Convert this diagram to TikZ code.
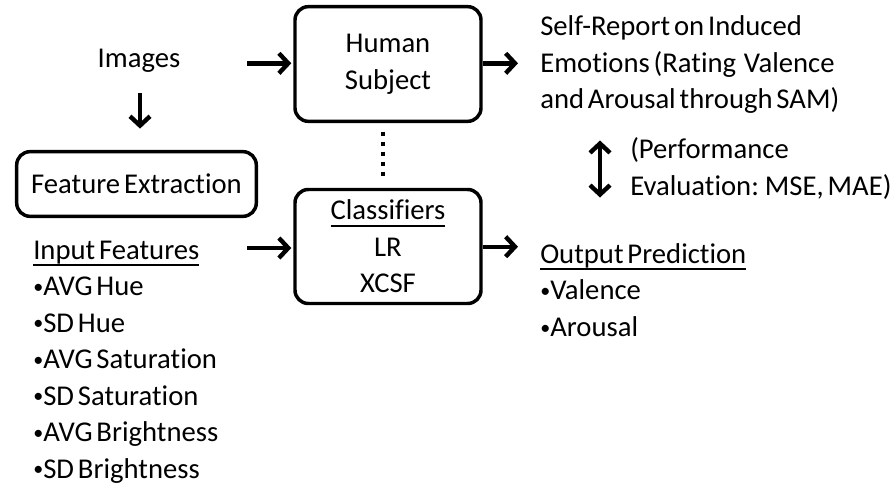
\documentclass[tikz,border=0pt]{standalone}
\usepackage{fontspec}
\setmainfont{Carlito}[WordSpace=0.6,Ligatures=NoCommon]
\usetikzlibrary{positioning,arrows.meta,calc}
\newsavebox{\ulbox}
\newcommand{\undl}[1]{\sbox{\ulbox}{#1}\rlap{\raisebox{-5.1pt}{\rule{\wd\ulbox}{1.3pt}}}\usebox{\ulbox}}
\newcommand{\bul}{\raisebox{0.15ex}{\scalebox{0.7}{\textbullet}}}

\begin{document}
\begin{tikzpicture}[
   x=0.75pt,y=-0.75pt,
   font=\fontsize{21.5}{27.4}\selectfont,
   blk/.style={draw,line width=2.6pt,rounded corners=10pt,align=center,inner sep=0pt},
   lbl/.style={inner sep=0pt,anchor=base west},
   arr/.style={line width=3.3pt,shorten >=1.5pt,-{Straight Barb[length=7pt,width=15pt]}},
   biarr/.style={line width=3.3pt,{Straight Barb[length=7pt,width=15pt]}-{Straight Barb[length=7pt,width=15pt]}},
   dots/.style={line width=3.4pt,dash pattern=on 3.4pt off 4.1pt}]
  \useasboundingbox (0,0) rectangle (893,489);
  % boxes
  \node[blk,minimum width=139.5pt,minimum height=86pt] (hum) at (388,64) {Human\\Subject};
  \node[blk,minimum width=139.5pt,minimum height=85.5pt] (cls) at (388,246.5) {\undl{Classifiers}\\LR\\XCSF};
  \node[blk,minimum width=179.7pt,minimum height=48.5pt] (fe) at (136.5,184) {Feature Extraction};
  % texts
  \node[inner sep=0pt,anchor=base] (img) at (139,67) {Images};
  \foreach \t [count=\i] in {Self-Report on Induced,Emotions (Rating~ Valence,and Arousal through SAM)}
    \node[lbl] (rep\i) at (540,36*\i) {\t};
  \node[lbl] (perf1) at (630,158) {(Performance};
  \node[lbl] (perf2) at (630,195) {Evaluation: MSE, MAE)};
  \node[lbl] (inp) at (33,259) {\undl{Input Features}};
  \foreach \f [count=\i] in {AVG Hue,SD Hue,AVG Saturation,SD Saturation,AVG Brightness,SD Brightness}
    \node[lbl] (f\i) at (33,259+36.5*\i) {\bul\f};
  \node[lbl] (out) at (540,263) {\undl{Output Prediction}};
  \foreach \o [count=\i] in {Valence,Arousal}
    \node[lbl] (o\i) at (540,263+36.8*\i) {\bul\o};
  % connector ends
  \coordinate (ih) at (247,63.3);
  \coordinate (id) at (140,93);
  \coordinate (ic) at (247,248);
  \coordinate (hr) at (518,63.3);
  \coordinate (co) at (518,246.7);
  \coordinate (dA) at (600,140.5);
  \coordinate (dB) at (600,197.5);
  \coordinate (dt1) at (383,131.5);
  \coordinate (dt2) at (383,176);
  % connectors
  \draw[arr] (ih) -- (ih -| hum.west);
  \draw[arr,shorten >=16pt] (id) -- (id |- fe.north);
  \draw[arr] (ic) -- (ic -| cls.west);
  \draw[arr,shorten >=0pt] (hum.east |- hr) -- (hr);
  \draw[arr,shorten >=0pt] (cls.east |- co) -- (co);
  \draw[biarr] (dA) -- (dB);
  \draw[dots] (dt1) -- (dt2);
\end{tikzpicture}
\end{document}
